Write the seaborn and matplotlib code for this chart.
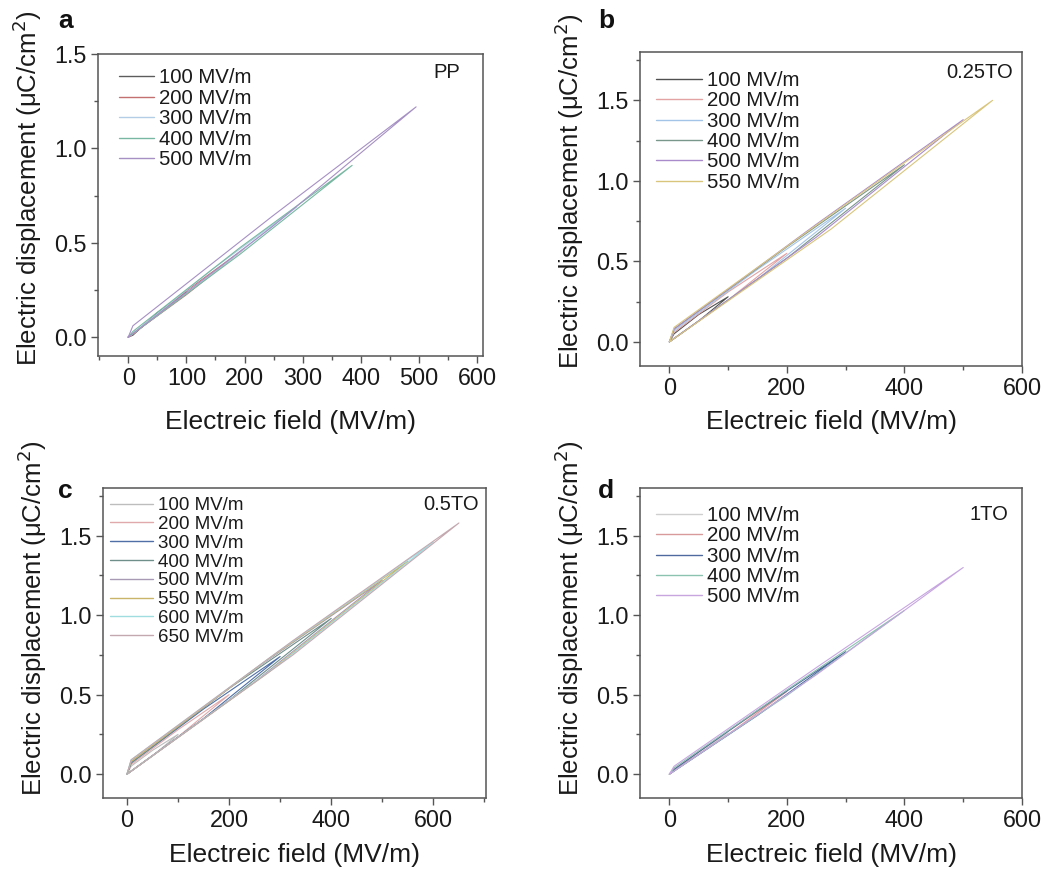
import matplotlib
matplotlib.use("Agg")
import matplotlib.pyplot as plt
import seaborn as sns
import pandas as pd

sns.set_theme(style="white")
plt.rcParams["font.family"] = ["Liberation Sans", "DejaVu Sans"]

# ---- loop data: per loop, field maximum and displacement at key points ----
# charge branch: (0, 0) -> (E_max/2, D_chg_half) -> (E_max, D_max)
# discharge branch: (E_max, D_max) -> (E_max/2, D_dis_half) -> (E_end, D_rem) -> (0, 0)
a_labels = ["100 MV/m", "200 MV/m", "300 MV/m", "400 MV/m", "500 MV/m"]
a_emax = [100, 200, 290, 385, 495]
a_dmax = [0.24, 0.47, 0.69, 0.91, 1.22]
a_dchg_half = [0.115, 0.225, 0.335, 0.44, 0.585]
a_ddis_half = [0.13, 0.245, 0.36, 0.475, 0.64]
a_drem = [0.01, 0.015, 0.02, 0.03, 0.06]
a_colors = ["#5c5c5c", "#c47070", "#b3cde6", "#78b8a2", "#a690c4"]

b_labels = ["100 MV/m", "200 MV/m", "300 MV/m", "400 MV/m", "500 MV/m", "550 MV/m"]
b_emax = [100, 200, 300, 400, 500, 550]
b_dmax = [0.28, 0.55, 0.83, 1.10, 1.38, 1.50]
b_dchg_half = [0.13, 0.26, 0.39, 0.52, 0.65, 0.70]
b_ddis_half = [0.17, 0.31, 0.45, 0.59, 0.73, 0.79]
b_drem = [0.05, 0.06, 0.07, 0.08, 0.08, 0.09]
b_colors = ["#505050", "#e3a3a3", "#a3c4e6", "#7a978c", "#a98bcb", "#d9c57c"]

c_labels = ["100 MV/m", "200 MV/m", "300 MV/m", "400 MV/m", "500 MV/m",
            "550 MV/m", "600 MV/m", "650 MV/m"]
c_emax = [100, 200, 300, 400, 500, 550, 600, 650]
c_dmax = [0.25, 0.50, 0.74, 0.98, 1.22, 1.34, 1.46, 1.58]
c_dchg_half = [0.115, 0.235, 0.35, 0.465, 0.58, 0.635, 0.695, 0.75]
c_ddis_half = [0.15, 0.28, 0.41, 0.54, 0.66, 0.72, 0.78, 0.84]
c_drem = [0.05, 0.06, 0.07, 0.07, 0.08, 0.08, 0.09, 0.09]
c_colors = ["#bdbdbd", "#e0a9ab", "#4f6fa6", "#6f8f8a", "#a89ab5",
            "#c9b46a", "#9fdde0", "#c4a8b0"]

d_labels = ["100 MV/m", "200 MV/m", "300 MV/m", "400 MV/m", "500 MV/m"]
d_emax = [100, 200, 300, 400, 500]
d_dmax = [0.26, 0.52, 0.77, 1.03, 1.30]
d_dchg_half = [0.125, 0.25, 0.37, 0.495, 0.625]
d_ddis_half = [0.14, 0.27, 0.40, 0.53, 0.67]
d_drem = [0.02, 0.03, 0.03, 0.04, 0.05]
d_colors = ["#cfcfcf", "#d89a9a", "#4e6a9e", "#8cc2b0", "#c7a6e0"]

panels = [
    dict(letter="a", tag="PP", labels=a_labels, emax=a_emax, dmax=a_dmax, dch=a_dchg_half,
         dds=a_ddis_half, drem=a_drem, colors=a_colors,
         xlim=(-52, 610), ylim=(-0.1, 1.5), xt=[0, 100, 200, 300, 400, 500, 600],
         rect=(98, 54, 483, 356), leg=(119, 75, 25.2, 35, 14.7), tagpos=(460, 73),
         letterpos=(58, 28), ylab_c=188, xlab_c=422),
    dict(letter="b", tag="0.25TO", labels=b_labels, emax=b_emax, dmax=b_dmax, dch=b_dchg_half,
         dds=b_ddis_half, drem=b_drem, colors=b_colors,
         xlim=(-50, 600), ylim=(-0.15, 1.8), xt=[0, 200, 400, 600],
         rect=(640, 52, 1022, 366), leg=(656, 78, 25.0, 46, 14.7), tagpos=(1013, 72),
         letterpos=(598, 28), ylab_c=191, xlab_c=422),
    dict(letter="c", tag="0.5TO", labels=c_labels, emax=c_emax, dmax=c_dmax, dch=c_dchg_half,
         dds=c_ddis_half, drem=c_drem, colors=c_colors,
         xlim=(-47, 703), ylim=(-0.15, 1.8), xt=[0, 200, 400, 600],
         rect=(103, 488, 486, 798), leg=(110, 503, 23.4, 43, 13.5), tagpos=(479, 505),
         letterpos=(58, 498), ylab_c=618, xlab_c=855),
    dict(letter="d", tag="1TO", labels=d_labels, emax=d_emax, dmax=d_dmax, dch=d_dchg_half,
         dds=d_ddis_half, drem=d_drem, colors=d_colors,
         xlim=(-50, 600), ylim=(-0.15, 1.8), xt=[0, 200, 400, 600],
         rect=(640, 488, 1022, 798), leg=(656, 513, 25.0, 46, 14.7), tagpos=(1008, 515),
         letterpos=(598, 498), ylab_c=618, xlab_c=855),
]
yticks = [0.0, 0.5, 1.0, 1.5]

W, H = 1046, 874
fig = plt.figure(figsize=(W / 100, H / 100), dpi=100)
PX = 100 / 72  # pixels per point

for p in panels:
    l, t, r, b = p["rect"]
    ax = fig.add_axes([l / W, 1 - b / H, (r - l) / W, (b - t) / H])
    rows = []
    for lab, em, dm, h1, h2, dr in zip(p["labels"], p["emax"], p["dmax"], p["dch"],
                                       p["dds"], p["drem"]):
        xs = [0, em / 2, em, em / 2, 8, 0]
        ys = [0, h1, dm, h2, dr, 0]
        for k, (x, y) in enumerate(zip(xs, ys)):
            rows.append({"E": x, "D": y, "field": lab, "order": k})
    df = pd.DataFrame(rows)
    sns.lineplot(data=df, x="E", y="D", hue="field", palette=p["colors"], sort=False,
                 estimator=None, units="field", lw=0.8, ax=ax, legend=True)
    xl, yl, xt = p["xlim"], p["ylim"], p["xt"]
    ax.set_xlim(*xl)
    ax.set_ylim(*yl)
    ax.set_xticks(xt)
    ax.set_yticks(yticks)
    ax.set_yticks([v + 0.25 for v in [-0.5] + yticks if yl[0] < v + 0.25 < yl[1]], minor=True)
    step = xt[1] - xt[0]
    ax.set_xticks([v + step / 2 for v in [-step] + xt if xl[0] < v + step / 2 < xl[1]],
                  minor=True)
    ax.tick_params(axis="both", which="major", direction="out", length=5, width=1,
                   color="#555555", labelsize=16.8, pad=3, bottom=True, left=True,
                   labelcolor="#1a1a1a")
    ax.tick_params(axis="both", which="minor", direction="out", length=3, width=1,
                   color="#555555", bottom=True, left=True)
    for s in ax.spines.values():
        s.set_color("#555555")
        s.set_linewidth(1.1)
    ax.set_xlabel("Electreic field (MV/m)", fontsize=19, color="#1a1a1a")
    ax.set_ylabel("Electric displacement (μC/cm$^2$)", fontsize=18.5, color="#1a1a1a")
    # label anchors in figure pixels, converted to axes fractions
    ax.yaxis.set_label_coords(-54 / (r - l), 1 - (p["ylab_c"] - t) / (b - t))
    ax.xaxis.set_label_coords(0.5, 1 - (p["xlab_c"] - 12 - t) / (b - t))

    hx, row1, spacing, hlen, fs = p["leg"]
    fpx = fs * PX
    leg = ax.legend(loc="upper left", frameon=False, fontsize=fs,
                    handlelength=hlen / fpx, handletextpad=5 / fpx,
                    labelspacing=(spacing - 1.16 * fpx) / fpx, borderpad=0, borderaxespad=0,
                    bbox_to_anchor=((hx - l) / (r - l),
                                    1 - (row1 - 0.58 * fpx + 5 - t) / (b - t)))
    for hl in leg.get_lines():
        hl.set_linewidth(1.0)
    for tx in leg.get_texts():
        tx.set_color("#1a1a1a")

    tx_, ty_ = p["tagpos"]
    fig.text(tx_ / W, 1 - ty_ / H, p["tag"], ha="right", va="center", fontsize=14.5,
             color="#1a1a1a")
    lx, ly = p["letterpos"]
    fig.text(lx / W, 1 - ly / H, p["letter"], fontsize=19, fontweight="bold",
             ha="left", va="baseline", color="#111111")

fig.savefig("out.png", dpi=100, facecolor="white")
